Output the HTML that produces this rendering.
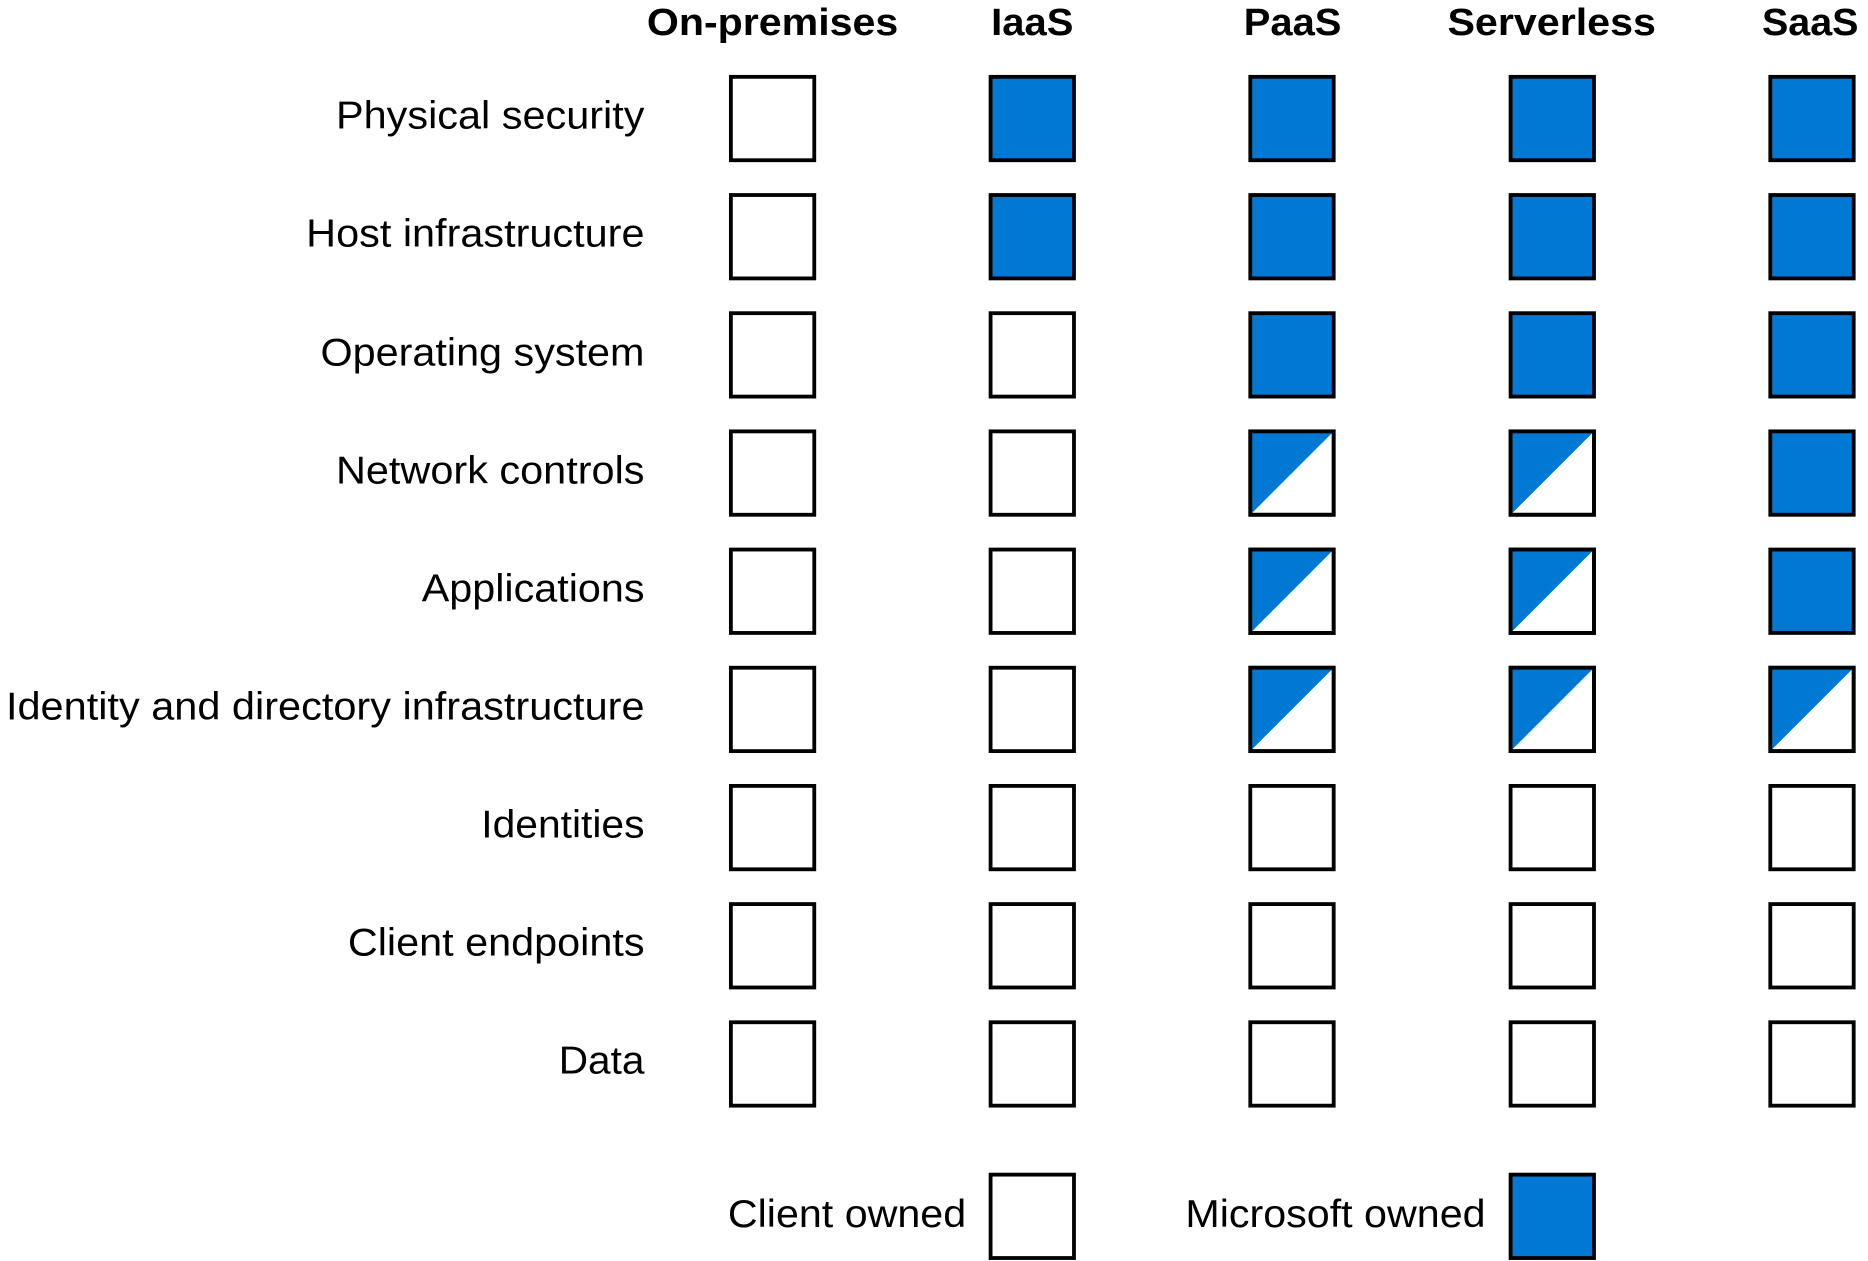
<!DOCTYPE html>
<html><head><meta charset="utf-8"><style>
html,body{margin:0;padding:0;background:#fff;}
svg{display:block;}
text{font-family:"Liberation Sans",Arial,sans-serif;fill:#000;}
</style></head><body>
<svg width="1868" height="1261" viewBox="0 0 1568 1058.5" xmlns="http://www.w3.org/2000/svg">
<g font-weight="bold" font-size="32">
<text x="543" y="29.5" textLength="211" lengthAdjust="spacingAndGlyphs">On-premises</text>
<text x="832" y="29.5" textLength="69" lengthAdjust="spacingAndGlyphs">IaaS</text>
<text x="1044" y="29.5" textLength="82" lengthAdjust="spacingAndGlyphs">PaaS</text>
<text x="1215" y="29.5" textLength="175" lengthAdjust="spacingAndGlyphs">Serverless</text>
<text x="1479" y="29.5" textLength="81" lengthAdjust="spacingAndGlyphs">SaaS</text>
</g>
<g font-size="32.5">
<text x="282" y="108" textLength="259" lengthAdjust="spacingAndGlyphs">Physical security</text>
<text x="257" y="207" textLength="284" lengthAdjust="spacingAndGlyphs">Host infrastructure</text>
<text x="269" y="307" textLength="272" lengthAdjust="spacingAndGlyphs">Operating system</text>
<text x="282" y="406" textLength="259" lengthAdjust="spacingAndGlyphs">Network controls</text>
<text x="354" y="505" textLength="187" lengthAdjust="spacingAndGlyphs">Applications</text>
<text x="5" y="604" textLength="536" lengthAdjust="spacingAndGlyphs">Identity and directory infrastructure</text>
<text x="404" y="703" textLength="137" lengthAdjust="spacingAndGlyphs">Identities</text>
<text x="292" y="802" textLength="249" lengthAdjust="spacingAndGlyphs">Client endpoints</text>
<text x="469" y="901" textLength="72" lengthAdjust="spacingAndGlyphs">Data</text>
<text x="611" y="1030" textLength="200" lengthAdjust="spacingAndGlyphs">Client owned</text>
<text x="995" y="1030" textLength="252" lengthAdjust="spacingAndGlyphs">Microsoft owned</text>
</g>
<g id="grid" stroke="#000" stroke-width="3.2"></g>
</svg>
<script>
(function(){
var g=document.getElementById('grid');var ns='http://www.w3.org/2000/svg';
var xs=[613.5,831.5,1049.5,1268,1486];
var rows=[
[0,1,1,1,1],[0,1,1,1,1],[0,0,1,1,1],[0,0,2,2,1],[0,0,2,2,1],[0,0,2,2,2],[0,0,0,0,0],[0,0,0,0,0],[0,0,0,0,0]];
function box(x,y,t){
 var r=document.createElementNS(ns,'rect');
 r.setAttribute('x',x);r.setAttribute('y',y);r.setAttribute('width',70);r.setAttribute('height',70);
 r.setAttribute('fill',t==1?'#0078D4':'#fff');g.appendChild(r);
 if(t==2){var p=document.createElementNS(ns,'polygon');
  p.setAttribute('points',x+','+y+' '+(x+70)+','+y+' '+x+','+(y+70));
  p.setAttribute('fill','#0078D4');p.setAttribute('stroke','none');g.appendChild(p);
  var r2=document.createElementNS(ns,'rect');
  r2.setAttribute('x',x);r2.setAttribute('y',y);r2.setAttribute('width',70);r2.setAttribute('height',70);
  r2.setAttribute('fill','none');g.appendChild(r2);}
}
for(var i=0;i<rows.length;i++){var y=64.5+i*99.2;for(var j=0;j<5;j++)box(xs[j],y,rows[i][j]);}
box(831.5,986,0);box(1268,986,1);
})();
</script>
</body></html>
